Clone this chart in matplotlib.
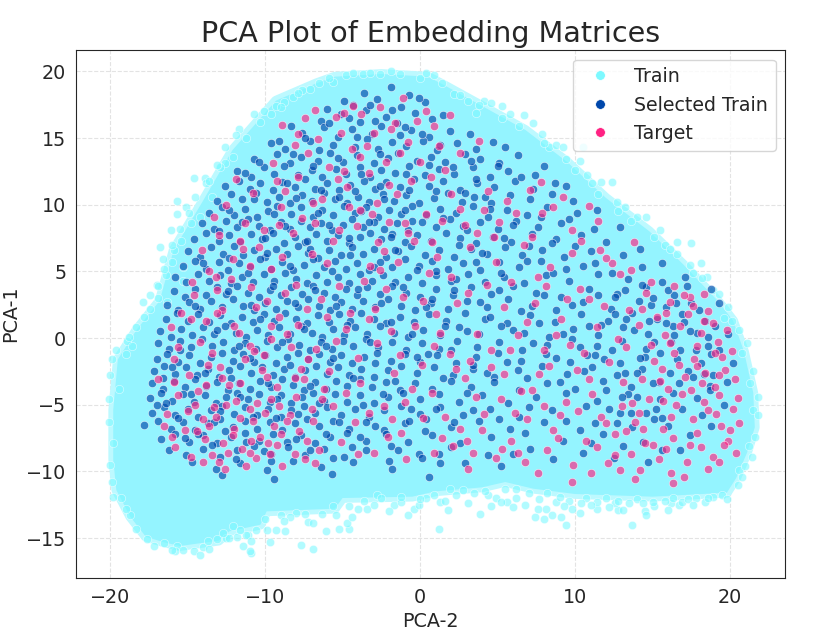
import numpy as np
import matplotlib
matplotlib.use("Agg")
import matplotlib.pyplot as plt
import seaborn as sns
from matplotlib.lines import Line2D

# colours
c_train = "#7DF9FF"
c_sel = "#0047AB"
c_tgt = "#FF2283"

# dense body of the Train cloud (outline)
core_x = [-5.5, -2.5, 0.5, 1.5, 4.0, 6.8, 9.5, 12.0, 14.8, 17.0, 19.2, 20.2, 20.9, 21.5, 21.6,
          21.1, 20.4, 19.8, 15.0, 10.0, 7.3, 5.5, 4.0, 1.0, -0.5, -5.0, -5.5, -9.9, -10.3, -12.3,
          -13.0, -15.5, -16.6, -17.7, -18.7, -19.6, -19.8, -19.8, -19.5, -18.3, -16.8, -15.9,
          -14.0, -12.1, -9.3, -6.7]
core_y = [19.6, 19.8, 19.6, 19.0, 17.4, 15.6, 13.2, 10.5, 8.0, 5.5, 2.8, 1.3, -1.0, -4.1, -6.7,
          -8.6, -10.5, -11.6, -11.9, -11.7, -11.3, -10.8, -11.2, -11.5, -11.9, -12.0, -12.8, -13.0,
          -14.0, -14.5, -15.2, -15.6, -15.3, -14.9, -13.4, -11.4, -9.1, -5.4, -1.6, 0.6, 2.8, 6.6,
          10.3, 14.1, 17.8, 19.1]

# loose Train points around the edge of the cloud
train_pts = [
    (-11.7, 15.7), (-11.9, 15.2), (-12.1, 13.6), (-12.6, 13.1), (-12.9, 12.8), (-13.9, 12.0),
    (-14.6, 12.0), (-13.8, 11.6), (-13.4, 10.6), (-15.7, 10.3), (-15.1, 9.8), (-15.7, 9.3),
    (-14.8, 8.6), (-14.2, 9.1), (-16.1, 8.1), (-15.4, 7.3), (-16.8, 6.8), (-15.9, 6.6),
    (-16.0, 5.7), (-15.3, 5.3), (-16.4, 4.7), (-15.3, 4.3), (-17.9, 2.7), (-16.9, 3.0),
    (-17.4, 2.2), (-16.3, 2.7), (-17.0, 4.0), (-16.6, 5.9),
    (-10.7, 16.8), (-10.1, 17.0), (-9.6, 16.8), (-9.3, 17.4), (-8.8, 17.7), (-8.2, 18.1),
    (-7.6, 18.6), (-7.1, 18.7), (-6.5, 19.1), (-5.6, 19.2), (-4.8, 19.7), (-3.7, 19.8),
    (-2.6, 19.8), (-1.3, 19.8), (0.0, 19.5),
    (0.9, 19.7), (2.2, 18.3), (3.1, 17.8), (4.1, 17.8), (4.6, 17.6), (5.3, 17.4), (5.8, 16.8),
    (6.7, 16.7), (7.3, 16.1), (7.9, 15.3), (8.3, 14.3), (8.8, 14.5), (9.2, 14.3), (10.5, 14.3),
    (10.3, 13.3), (10.8, 12.2), (11.1, 11.6), (11.7, 11.7), (12.4, 11.7), (12.7, 10.2),
    (14.0, 9.1), (14.6, 9.1), (15.5, 8.1), (16.6, 7.2), (17.5, 7.1), (16.6, 6.3), (18.1, 5.6),
    (18.5, 4.6), (18.9, 3.6), (19.6, 1.5), (13.2, 9.8), (15.8, 7.0), (17.6, 4.9), (3.6, 16.9),
    (20.1, 1.3), (20.8, -1.1), (21.3, -3.4), (21.5, -5.4), (21.2, -8.1), (20.6, -9.9),
    (-19.9, -1.6), (-20.1, -4.6), (-18.9, -0.2), (-19.0, -1.2), (-18.3, 0.8), (-18.6, -0.6),
    (-19.4, -3.8), (-19.8, -7.9), (-19.9, -10.8), (-19.3, -12.0), (-18.7, -13.3),
    (-17.6, -15.1), (-16.5, -15.4), (-15.7, -15.6), (-14.6, -16.0), (-14.2, -16.3),
    (-15.3, -15.9), (-13.1, -15.1), (-12.5, -15.0), (-11.1, -14.8), (-10.9, -16.1),
    (-12.1, -14.1), (-12.3, -15.0), (-15.8, -16.0),
    (-11.2, -14.8), (-10.9, -15.2), (-11.4, -15.6), (-11.0, -16.0), (-9.7, -15.3), (-9.9, -14.4),
    (-9.3, -14.4), (-8.7, -14.5), (-7.7, -15.5), (-6.9, -15.8), (-6.1, -14.5), (-7.2, -13.8),
    (-6.9, -13.9), (-5.4, -13.3), (-5.2, -14.3), (-4.6, -14.3), (-4.7, -13.9), (-4.4, -13.4),
    (-4.0, -12.8), (-3.4, -12.8), (-2.8, -11.8), (-1.7, -12.5), (-1.2, -12.3), (-0.75, -13.3),
    (-0.4, -12.8), (-0.1, -12.5), (1.2, -14.3), (1.3, -12.3), (0.9, -11.8), (1.8, -12.9),
    (1.9, -11.3), (3.9, -13.2), (4.4, -11.8), (4.9, -12.0), (5.6, -12.3), (-8.0, -13.1),
    (-9.0, -13.3), (-2.5, -12.0), (2.8, -11.4), (3.5, -11.6),
    (5.5, -11.3), (5.2, -12.3), (6.2, -12.0), (6.8, -12.5), (7.4, -13.4), (8.0, -13.6),
    (7.6, -12.8), (8.1, -12.8), (8.5, -13.3), (9.1, -13.4), (9.4, -14.0), (9.8, -12.8),
    (10.3, -13.1), (8.8, -12.3), (11.4, -12.8), (11.4, -12.3), (12.8, -12.9), (13.1, -12.9),
    (12.6, -12.4), (13.7, -14.0), (14.5, -13.0), (14.6, -13.3), (15.1, -12.6), (16.2, -12.4),
    (16.7, -12.5), (16.9, -12.3), (16.3, -12.0), (7.0, -11.6), (9.0, -11.9), (10.7, -12.0),
    (12.0, -12.0), (14.0, -12.1), (17.8, -12.0), (18.9, -11.9),
    (-7.9, 18.4), (-9.0, 17.3), (-10.3, 16.2), (-11.2, 15.0), (-12.6, 14.3), (-13.1, 13.0),
    (-13.6, 11.8), (-14.5, 10.6), (-14.9, 9.4), (-15.5, 8.2), (-16.0, 7.0), (-16.5, 5.2),
    (-16.9, 3.9), (-17.4, 3.2), (-17.8, 1.6), (-18.8, 0.1), (-19.6, -0.9), (-20.0, -2.8),
    (-20.1, -6.3), (-20.0, -9.5), (-19.8, -11.9), (-19.0, -12.8), (-18.3, -14.3), (-17.2, -15.6),
    (-16.0, -15.9), (-14.0, -15.7), (-13.6, -15.8), (-12.7, -14.6), (-11.8, -14.9), (-10.6, -14.4),
    (-10.0, -13.6), (-8.4, -13.4), (-7.4, -13.2), (-6.3, -13.2), (-5.6, -12.6), (-3.6, -12.2),
    (-1.2, -11.9), (0.4, -12.0), (2.3, -11.8), (4.2, -11.5), (6.2, -11.3), (8.2, -11.6),
    (9.6, -12.2), (11.0, -12.5), (12.8, -12.2), (14.4, -12.4), (15.8, -12.2), (17.3, -12.1),
    (18.4, -12.3), (19.5, -11.8), (20.5, -11.0), (21.0, -9.6), (21.6, -7.4), (21.8, -5.8),
    (21.8, -4.4), (21.5, -2.5), (21.1, -0.4), (20.6, 0.6), (19.9, 2.3), (19.3, 3.3), (18.2, 4.5),
    (17.4, 5.5), (16.1, 6.7), (15.1, 7.6), (13.6, 8.8), (12.8, 9.5), (11.5, 10.8), (10.0, 12.6),
    (9.4, 13.4), (8.0, 14.6), (6.4, 15.9), (5.3, 16.5), (3.8, 17.5), (2.6, 18.2), (1.4, 19.1),
    (0.4, 19.9), (-1.9, 20.0), (-3.2, 19.9), (-4.3, 19.9), (-5.9, 19.5),
    (-4.6, -12.6), (-3.0, -12.5), (-2.0, -13.0), (0.0, -12.1), (1.6, -12.2), (3.1, -12.4),
    (4.6, -12.6), (6.0, -12.7), (7.7, -12.1), (9.3, -12.6), (10.4, -12.4), (12.2, -12.7),
    (13.5, -12.4), (15.0, -12.3), (16.0, -12.9), (17.6, -12.5), (18.6, -12.0), (19.8, -12.1),
    (20.8, -10.4), (21.4, -8.9), (-8.8, -13.7), (-11.6, -14.4), (-13.7, -15.2),
]

# Selected Train points
sel_pts = [
    (-3.6, 18.4), (-1.9, 18.8), (-0.7, 18.2),
    (-4.3, 17.5), (-2.8, 17.9), (-1.2, 17.3), (0.3, 17.7), (-3.5, 17.1),
    (-6.4, 16.3), (-5.1, 16.8), (-3.9, 16.2), (-2.2, 16.6), (-1.5, 16.1), (-0.3, 16.9), (0.8, 16.4),
    (1.5, 16.7), (-4.6, 16.5),
    (-7.6, 15.4), (-6.2, 15.8), (-5.3, 15.1), (-4.4, 15.7), (-3.1, 15.3), (-2.5, 15.9), (-1.3, 15.2),
    (-0.6, 15.6), (0.6, 15.1), (1.9, 15.5), (3.2, 15.3), (-8.3, 15.9),
    (-9.6, 14.6), (-8.7, 14.2), (-7.1, 14.8), (-6.5, 14.1), (-5.6, 14.5), (-4.2, 14.3), (-3.4, 14.9),
    (-2.7, 14.2), (-1.8, 14.7), (-0.9, 14.4), (0.2, 14.8), (1.1, 14.1), (2.4, 14.6), (3.6, 14.2),
    (4.7, 14.7), (5.5, 14.3),
    (-10.7, 13.4), (-9.2, 13.8), (-8.4, 13.1), (-7.7, 13.6), (-6.6, 13.3), (-5.8, 13.9), (-5.0, 13.2),
    (-4.1, 13.7), (-3.0, 13.1), (-2.1, 13.5), (-1.4, 13.9), (-0.2, 13.3), (0.7, 13.6), (1.6, 13.2),
    (2.9, 13.8), (3.9, 13.4), (5.1, 13.1), (6.3, 13.7),
    (-11.8, 12.5), (-10.9, 12.1), (-10.1, 12.8), (-9.4, 12.3), (-8.8, 12.9), (-7.9, 12.2), (-7.0, 12.6),
    (-6.3, 12.1), (-5.4, 12.7), (-4.8, 12.3), (-3.9, 12.8), (-3.2, 12.1), (-2.5, 12.6), (-1.6, 12.4),
    (-0.7, 12.9), (0.3, 12.2), (1.2, 12.7), (2.2, 12.3), (3.4, 12.8), (4.5, 12.1), (5.7, 12.5),
    (7.4, 12.2),
    (-12.6, 11.4), (-11.7, 11.8), (-11.0, 11.2), (-10.3, 11.6), (-9.5, 11.1), (-8.9, 11.7),
    (-8.1, 11.3), (-7.4, 11.9), (-6.8, 11.2), (-6.0, 11.6), (-5.2, 11.1), (-4.5, 11.5), (-3.6, 11.8),
    (-2.9, 11.2), (-2.2, 11.7), (-1.3, 11.3), (-0.4, 11.9), (0.6, 11.4), (1.5, 11.8), (2.6, 11.1),
    (3.7, 11.6), (4.8, 11.3), (6.1, 11.8), (7.3, 11.2), (8.7, 11.6),
    (-13.1, 10.3), (-12.2, 10.8), (-11.5, 10.4), (-10.6, 10.9), (-9.9, 10.2), (-9.1, 10.6),
    (-8.4, 10.1), (-7.6, 10.7), (-7.0, 10.3), (-6.2, 10.9), (-5.5, 10.4), (-4.7, 10.1), (-4.0, 10.6),
    (-3.3, 10.2), (-2.4, 10.8), (-1.7, 10.3), (-0.9, 10.7), (-0.1, 10.1), (0.9, 10.5), (1.8, 10.9),
    (2.7, 10.2), (3.5, 10.6), (4.6, 10.1), (5.8, 10.7), (7.1, 10.4), (8.5, 10.8), (9.9, 10.3),
    (-13.6, 9.4), (-12.8, 9.8), (-12.0, 9.2), (-11.3, 9.7), (-10.5, 9.1), (-9.8, 9.5), (-9.2, 9.9),
    (-8.3, 9.3), (-7.7, 9.8), (-6.9, 9.1), (-6.3, 9.6), (-5.6, 9.2), (-4.9, 9.9), (-4.2, 9.4),
    (-3.5, 9.8), (-2.7, 9.1), (-2.0, 9.6), (-1.2, 9.3), (-0.5, 9.9), (0.4, 9.2), (1.3, 9.7),
    (2.3, 9.4), (3.4, 9.9), (4.4, 9.1), (5.6, 9.6), (6.9, 9.2), (8.2, 9.8), (10.1, 9.4),
    (-14.1, 8.6), (-13.3, 8.2), (-12.5, 8.8), (-11.8, 8.3), (-11.1, 8.9), (-10.4, 8.4), (-9.7, 8.1),
    (-9.0, 8.7), (-8.4, 8.2), (-7.7, 8.8), (-7.1, 8.3), (-6.4, 8.6), (-5.7, 8.1), (-5.0, 8.5),
    (-4.4, 8.9), (-3.7, 8.3), (-3.0, 8.7), (-2.3, 8.2), (-1.5, 8.6), (-0.8, 8.1), (0.1, 8.7),
    (1.0, 8.3), (1.9, 8.9), (2.8, 8.4), (3.9, 8.7), (5.0, 8.2), (6.2, 8.8), (7.6, 8.3), (9.1, 8.6),
    (11.2, 8.2),
    (-14.6, 7.4), (-13.8, 7.9), (-13.0, 7.3), (-12.3, 7.7), (-11.6, 7.2), (-10.9, 7.8), (-10.2, 7.4),
    (-9.5, 7.9), (-8.8, 7.1), (-8.1, 7.6), (-7.4, 7.2), (-6.7, 7.8), (-6.0, 7.3), (-5.3, 7.7),
    (-4.6, 7.1), (-3.9, 7.6), (-3.2, 7.9), (-2.5, 7.4), (-1.8, 7.8), (-1.0, 7.2), (-0.2, 7.7),
    (0.7, 7.3), (1.7, 7.9), (2.6, 7.5), (3.6, 7.1), (4.7, 7.6), (5.9, 7.2), (7.2, 7.8), (8.8, 7.4),
    (10.4, 7.7),
    (-15.0, 6.5), (-14.2, 6.1), (-13.5, 6.8), (-12.7, 6.3), (-12.0, 6.9), (-11.4, 6.2), (-10.7, 6.6),
    (-10.0, 6.1), (-9.3, 6.7), (-8.6, 6.3), (-7.9, 6.9), (-7.2, 6.4), (-6.6, 6.0), (-5.9, 6.6),
    (-5.1, 6.2), (-4.4, 6.8), (-3.7, 6.3), (-3.0, 6.7), (-2.2, 6.1), (-1.4, 6.5), (-0.6, 6.9),
    (0.3, 6.2), (1.2, 6.6), (2.2, 6.1), (3.3, 6.7), (4.3, 6.3), (5.5, 6.8), (6.6, 6.2), (7.9, 6.6),
    (9.3, 6.1), (11.0, 6.5), (13.1, 6.2),
    (-15.3, 5.4), (-14.5, 5.8), (-13.8, 5.2), (-13.0, 5.7), (-12.4, 5.1), (-11.7, 5.6), (-11.0, 5.3),
    (-10.3, 5.9), (-9.6, 5.2), (-8.9, 5.7), (-8.2, 5.1), (-7.5, 5.5), (-6.9, 5.9), (-6.2, 5.3),
    (-5.5, 5.8), (-4.8, 5.2), (-4.1, 5.6), (-3.3, 5.1), (-2.6, 5.7), (-1.8, 5.3), (-1.0, 5.9),
    (-0.1, 5.4), (0.8, 5.8), (1.8, 5.2), (2.8, 5.6), (3.9, 5.1), (5.1, 5.7), (6.4, 5.3), (7.8, 5.8),
    (9.4, 5.2), (11.3, 5.6), (14.3, 5.3),
    (-15.8, 4.6), (-15.1, 4.2), (-14.3, 4.8), (-13.6, 4.3), (-12.9, 4.7), (-12.2, 4.1), (-11.5, 4.6),
    (-10.8, 4.2), (-10.1, 4.8), (-9.4, 4.3), (-8.7, 4.9), (-8.0, 4.4), (-7.3, 4.1), (-6.7, 4.7),
    (-6.0, 4.2), (-5.3, 4.6), (-4.6, 4.1), (-3.9, 4.8), (-3.1, 4.3), (-2.4, 4.7), (-1.6, 4.2),
    (-0.8, 4.6), (0.1, 4.1), (1.0, 4.7), (2.0, 4.3), (3.1, 4.8), (4.2, 4.2), (5.4, 4.6), (6.7, 4.1),
    (8.1, 4.7), (9.6, 4.3), (11.5, 4.8), (13.4, 4.4), (15.6, 4.2),
    (-15.9, 3.5), (-15.2, 3.1), (-14.5, 3.7), (-13.8, 3.2), (-13.1, 3.8), (-12.5, 3.3), (-11.8, 3.9),
    (-11.1, 3.4), (-10.4, 3.1), (-9.7, 3.6), (-9.0, 3.2), (-8.3, 3.8), (-7.6, 3.3), (-6.9, 3.9),
    (-6.2, 3.4), (-5.5, 3.1), (-4.8, 3.7), (-4.1, 3.2), (-3.4, 3.8), (-2.6, 3.3), (-1.8, 3.9),
    (-0.9, 3.4), (0.0, 3.1), (1.0, 3.7), (2.1, 3.2), (3.3, 3.8), (4.6, 3.3), (6.0, 3.9), (7.5, 3.4),
    (9.1, 3.1), (10.9, 3.7), (12.7, 3.3), (14.6, 3.8), (16.4, 3.2),
    (-16.3, 2.5), (-15.6, 2.1), (-14.9, 2.7), (-14.2, 2.2), (-13.5, 2.8), (-12.8, 2.3), (-12.1, 2.9),
    (-11.4, 2.4), (-10.7, 2.1), (-10.0, 2.6), (-9.3, 2.2), (-8.6, 2.8), (-7.9, 2.3), (-7.2, 2.9),
    (-6.5, 2.4), (-5.8, 2.1), (-5.1, 2.7), (-4.4, 2.2), (-3.7, 2.8), (-2.9, 2.3), (-2.1, 2.9),
    (-1.2, 2.4), (-0.3, 2.1), (0.7, 2.6), (1.8, 2.2), (3.0, 2.8), (4.3, 2.3), (5.7, 2.9), (7.2, 2.4),
    (8.8, 2.1), (10.5, 2.7), (12.3, 2.2), (14.1, 2.8), (15.9, 2.3), (17.5, 2.6),
    (-16.4, 1.4), (-15.7, 1.9), (-15.0, 1.3), (-14.3, 1.8), (-13.6, 1.2), (-12.9, 1.7), (-12.2, 1.1),
    (-11.5, 1.6), (-10.8, 1.2), (-10.1, 1.8), (-9.4, 1.3), (-8.7, 1.9), (-8.0, 1.4), (-7.3, 1.1),
    (-6.6, 1.7), (-5.9, 1.2), (-5.2, 1.8), (-4.5, 1.3), (-3.8, 1.9), (-3.0, 1.4), (-2.2, 1.1),
    (-1.3, 1.6), (-0.4, 1.2), (0.6, 1.8), (1.7, 1.3), (2.9, 1.9), (4.2, 1.4), (5.6, 1.1), (7.1, 1.7),
    (8.7, 1.2), (10.4, 1.8), (12.1, 1.3), (13.7, 1.9), (15.3, 1.4), (16.9, 1.8), (18.4, 1.3),
    (-16.8, 0.5), (-16.1, 0.1), (-15.4, 0.7), (-14.7, 0.2), (-14.0, 0.8), (-13.3, 0.3), (-12.6, 0.9),
    (-11.9, 0.4), (-11.2, 0.1), (-10.5, 0.6), (-9.8, 0.2), (-9.1, 0.8), (-8.4, 0.3), (-7.7, 0.9),
    (-7.0, 0.4), (-6.3, 0.1), (-5.6, 0.7), (-4.9, 0.2), (-4.2, 0.8), (-3.4, 0.3), (-2.6, 0.9),
    (-1.7, 0.4), (-0.8, 0.1), (0.2, 0.6), (1.3, 0.2), (2.5, 0.8), (3.8, 0.3), (5.2, 0.9), (6.7, 0.4),
    (8.3, 0.1), (9.9, 0.7), (11.5, 0.2), (13.1, 0.8), (14.7, 0.3), (16.3, 0.9), (17.9, 0.4),
    (-16.9, -0.4), (-16.2, -0.8), (-15.5, -0.2), (-14.8, -0.7), (-14.1, -0.1), (-13.4, -0.6),
    (-12.7, -0.3), (-12.0, -0.9), (-11.3, -0.4), (-10.6, -0.8), (-9.9, -0.2), (-9.2, -0.7),
    (-8.5, -0.1), (-7.8, -0.5), (-7.1, -0.9), (-6.4, -0.3), (-5.7, -0.8), (-5.0, -0.2), (-4.3, -0.6),
    (-3.5, -0.1), (-2.7, -0.7), (-1.8, -0.3), (-0.9, -0.9), (0.1, -0.4), (1.2, -0.8), (2.4, -0.2),
    (3.7, -0.7), (5.1, -0.3), (6.6, -0.9), (8.2, -0.5), (9.8, -0.1), (11.4, -0.6), (13.0, -0.2),
    (14.6, -0.8), (16.2, -0.3), (18.6, -0.6),
    (-17.0, -1.6), (-16.3, -1.2), (-15.6, -1.8), (-14.9, -1.3), (-14.2, -1.9), (-13.5, -1.4),
    (-12.8, -1.1), (-12.1, -1.7), (-11.4, -1.2), (-10.7, -1.8), (-10.0, -1.3), (-9.3, -1.9),
    (-8.6, -1.4), (-7.9, -1.1), (-7.2, -1.6), (-6.5, -1.2), (-5.8, -1.8), (-5.1, -1.3), (-4.4, -1.9),
    (-3.6, -1.4), (-2.8, -1.1), (-1.9, -1.7), (-1.0, -1.2), (0.0, -1.8), (1.1, -1.3), (2.3, -1.9),
    (3.6, -1.4), (5.0, -1.1), (6.5, -1.7), (8.1, -1.2), (9.7, -1.8), (11.3, -1.3), (12.9, -1.9),
    (14.5, -1.4), (16.6, -1.6), (18.8, -1.2),
    (-17.2, -2.5), (-16.5, -2.1), (-15.8, -2.7), (-15.1, -2.2), (-14.4, -2.8), (-13.7, -2.3),
    (-13.0, -2.9), (-12.3, -2.4), (-11.6, -2.1), (-10.9, -2.6), (-10.2, -2.2), (-9.5, -2.8),
    (-8.8, -2.3), (-8.1, -2.9), (-7.4, -2.4), (-6.7, -2.1), (-6.0, -2.7), (-5.3, -2.2), (-4.6, -2.8),
    (-3.8, -2.3), (-3.0, -2.9), (-2.1, -2.4), (-1.2, -2.1), (-0.2, -2.6), (0.9, -2.2), (2.1, -2.8),
    (3.4, -2.3), (4.8, -2.9), (6.3, -2.4), (7.9, -2.1), (9.5, -2.7), (11.1, -2.2), (12.7, -2.8),
    (14.3, -2.3), (17.3, -2.5),
    (-17.3, -3.4), (-16.6, -3.8), (-15.9, -3.2), (-15.2, -3.7), (-14.5, -3.1), (-13.8, -3.6),
    (-13.1, -3.3), (-12.4, -3.9), (-11.7, -3.4), (-11.0, -3.8), (-10.3, -3.2), (-9.6, -3.7),
    (-8.9, -3.1), (-8.2, -3.5), (-7.5, -3.9), (-6.8, -3.3), (-6.1, -3.8), (-5.4, -3.2), (-4.7, -3.6),
    (-3.9, -3.1), (-3.1, -3.7), (-2.2, -3.3), (-1.3, -3.9), (-0.3, -3.4), (0.8, -3.8), (2.0, -3.2),
    (3.3, -3.7), (4.8, -3.3), (6.4, -3.9), (8.2, -3.4), (10.0, -3.8), (11.8, -3.2), (13.6, -3.7),
    (15.4, -3.3), (18.7, -3.6),
    (-17.4, -4.5), (-16.7, -4.1), (-16.0, -4.7), (-15.3, -4.2), (-14.6, -4.8), (-13.9, -4.3),
    (-13.2, -4.9), (-12.5, -4.4), (-11.8, -4.1), (-11.1, -4.6), (-10.4, -4.2), (-9.7, -4.8),
    (-9.0, -4.3), (-8.3, -4.9), (-7.6, -4.4), (-6.9, -4.1), (-6.2, -4.7), (-5.5, -4.2), (-4.7, -4.8),
    (-3.9, -4.3), (-3.0, -4.9), (-2.1, -4.4), (-1.1, -4.1), (0.0, -4.6), (1.2, -4.2), (2.5, -4.8),
    (4.0, -4.3), (5.7, -4.9), (7.5, -4.4), (9.4, -4.1), (11.4, -4.7), (13.4, -4.2), (15.5, -4.6),
    (-17.3, -5.6), (-16.5, -5.2), (-15.8, -5.8), (-15.0, -5.3), (-14.3, -5.9), (-13.5, -5.4),
    (-12.8, -5.1), (-12.0, -5.7), (-11.3, -5.2), (-10.5, -5.8), (-9.8, -5.3), (-9.0, -5.9),
    (-8.3, -5.4), (-7.5, -5.1), (-6.8, -5.6), (-6.0, -5.2), (-5.1, -5.8), (-4.2, -5.3), (-3.3, -5.9),
    (-2.3, -5.4), (-1.2, -5.1), (0.0, -5.7), (1.3, -5.2), (2.8, -5.8), (4.5, -5.3), (6.4, -5.9),
    (8.5, -5.4), (10.7, -5.1), (12.9, -5.6), (15.2, -5.3),
    (-17.8, -6.5), (-16.9, -6.2), (-16.1, -6.8), (-15.3, -6.3), (-14.5, -6.9), (-13.7, -6.4),
    (-12.9, -6.1), (-12.1, -6.7), (-11.3, -6.2), (-10.5, -6.8), (-9.7, -6.3), (-8.9, -6.9),
    (-8.1, -6.4), (-7.3, -6.1), (-6.5, -6.6), (-5.6, -6.2), (-4.6, -6.8), (-3.5, -6.3), (-2.3, -6.9),
    (-1.0, -6.4), (0.4, -6.1), (2.0, -6.7), (3.8, -6.2), (5.8, -6.8), (8.0, -6.3), (10.3, -6.9),
    (12.7, -6.4), (15.1, -6.1),
    (-16.7, -7.6), (-15.8, -7.2), (-14.9, -7.8), (-14.0, -7.3), (-13.1, -7.9), (-12.2, -7.4),
    (-11.3, -7.1), (-10.4, -7.7), (-9.5, -7.2), (-8.6, -7.8), (-7.7, -7.3), (-6.8, -7.9), (-5.8, -7.4),
    (-4.7, -7.1), (-3.5, -7.7), (-2.2, -7.2), (-0.8, -7.8), (0.8, -7.3), (2.6, -7.9), (4.6, -7.4),
    (6.8, -7.1), (9.2, -7.7), (11.8, -7.2), (14.4, -7.8),
    (-16.2, -8.4), (-15.1, -8.8), (-14.0, -8.3), (-12.9, -8.9), (-11.8, -8.4), (-10.7, -8.1),
    (-9.6, -8.7), (-8.5, -8.2), (-7.4, -8.8), (-6.2, -8.3), (-4.9, -8.9), (-3.5, -8.4), (-1.9, -8.1),
    (-0.1, -8.7), (2.0, -8.2), (4.4, -8.8), (7.1, -8.3), (10.5, -8.6),
    (-14.7, -9.3), (-13.2, -9.8), (-11.6, -9.4), (-9.9, -9.9), (-8.2, -9.2), (-6.4, -9.7), (-4.3, -9.3),
    (-1.8, -9.8), (1.3, -9.4), (5.2, -9.6),
    (-12.8, -10.3), (-9.4, -10.6), (-5.7, -10.2), (0.6, -10.4),
    (12.4, -0.9), (13.8, 0.6), (14.2, -1.5), (15.1, -0.3), (15.9, 1.1), (16.8, -0.9), (17.4, 0.5),
    (18.1, -1.9), (17.6, -2.9), (16.1, -2.6), (15.0, -3.4), (13.2, -2.6), (12.0, -3.9), (14.0, -4.4),
    (16.3, -4.1), (17.9, -4.5), (18.9, -2.8), (19.3, -0.9), (19.0, 0.9), (18.0, 2.1), (16.5, 2.6),
    (14.9, 2.5), (13.3, 1.4), (12.6, 3.1), (14.3, 4.0), (16.0, 3.6), (17.2, 3.9), (11.7, 1.0),
    (10.8, -1.3), (12.2, -5.3), (14.6, -5.6), (16.9, -5.3), (18.2, -5.8), (13.7, -6.7), (16.0, -6.6),
    (17.4, -7.3), (15.6, -8.4), (13.1, -8.1), (11.0, -7.9), (18.7, -3.9),
    (-13.4, -8.0), (-12.6, -7.0), (-11.9, -9.1), (-10.1, -8.5), (-9.3, -6.0), (-8.0, -7.6),
    (-6.1, -7.2), (-4.4, -8.2), (-2.9, -6.6), (-1.4, -8.4), (0.3, -7.0), (-14.3, -7.2), (-15.6, -6.0),
    (-16.4, -4.9), (-14.8, -4.2), (-12.9, -5.5), (-11.6, -4.4), (-10.8, -5.9), (-9.2, -4.6),
    (-7.9, -5.7), (-6.5, -4.9), (-5.2, -6.3), (-3.7, -5.0), (-2.4, -4.2), (-0.6, -5.3), (-13.9, -2.6),
    (-12.2, -3.0), (-11.0, -1.5), (-9.8, -3.4), (-8.4, -2.0), (-7.1, -3.6), (-5.6, -1.5), (-4.3, -3.0),
    (-2.9, -1.9), (-1.6, -3.2), (-0.2, -1.4), (-15.5, -0.9), (-13.1, 0.6), (-11.7, -0.6), (-10.3, 1.4),
    (-8.9, -0.3), (-7.5, 0.7), (-6.1, -0.6), (-4.7, 1.0), (-3.2, -0.3), (-1.9, 1.2), (-0.5, 0.3),
    (-14.5, 2.4), (-12.4, 3.5), (-10.9, 2.5), (-9.5, 3.9), (-8.1, 2.6), (-6.8, 3.6), (-5.4, 2.4),
    (-4.0, 3.7), (-2.5, 2.6), (-1.1, 3.8), (0.4, 2.3), (-14.0, 5.6), (-12.3, 6.0), (-11.1, 4.9),
    (-9.9, 6.4), (-8.4, 5.4), (-7.1, 6.7), (-5.7, 5.0), (-4.5, 6.2), (-3.0, 5.3), (-1.6, 6.6),
    (-0.2, 5.1), (-13.0, 8.0), (-11.5, 8.7), (-10.0, 7.5), (-8.7, 8.4), (-7.3, 7.3), (-5.9, 8.5),
    (-4.6, 7.5), (-3.3, 8.7), (-1.9, 7.6), (-0.5, 8.8), (-12.3, 9.6), (-10.7, 10.4), (-9.4, 9.3),
    (-8.0, 10.5), (-6.6, 9.4), (-5.2, 10.6), (-3.8, 9.5), (-2.3, 10.4), (-1.0, 9.6), (-16.0, -2.2),
    (-16.6, -3.0), (-17.0, -5.0), (-15.2, -7.5), (-13.3, -6.3), (-11.2, -7.8), (-9.6, -9.2),
    (-7.1, -8.4), (-5.6, -9.0), (-3.9, -7.4), (-2.0, -9.2), (-0.7, -6.2), (1.2, -8.7),
    (-8.2, 13.8), (-6.9, 12.9), (-5.3, 13.5), (-3.8, 12.3), (-2.6, 13.8), (-0.9, 12.3), (0.6, 13.0),
    (2.1, 12.8), (3.6, 11.9), (-7.4, 15.0), (-5.9, 16.1), (-4.1, 15.1), (-2.9, 16.3), (-1.0, 15.8),
    (0.1, 15.3), (1.3, 14.5), (-9.1, 14.8), (-10.4, 13.2), (-11.3, 12.4), (-8.6, 11.6), (-6.4, 11.1),
    (-4.2, 11.0), (-2.6, 11.4), (-0.7, 11.1), (1.0, 11.0), (2.9, 10.9), (4.2, 10.6), (-3.2, 17.5),
    (-1.8, 17.1), (-0.1, 18.0), (-4.9, 17.8), (-6.0, 17.2),
    (1.5, 9.0), (3.0, 8.1), (4.5, 9.7), (6.0, 8.5), (7.8, 9.1), (9.6, 8.9), (2.5, 7.0), (4.0, 6.4),
    (5.4, 7.5), (7.0, 6.9), (8.5, 7.1), (10.0, 6.9), (12.0, 7.2), (1.0, 5.0), (2.3, 4.4), (3.6, 5.7),
    (5.2, 4.9), (6.9, 5.8), (8.6, 4.9), (10.5, 5.4), (12.4, 4.9), (0.8, 2.9), (2.2, 3.6), (3.9, 2.7),
    (5.1, 3.6), (6.5, 2.0), (8.0, 3.2), (9.8, 2.5), (11.5, 3.2), (13.2, 3.6), (15.0, 3.0), (1.6, 0.9),
    (3.0, 0.5), (4.5, 1.6), (6.0, 0.6), (7.7, 1.1), (9.2, 0.3), (10.9, 0.9), (12.6, 1.8), (0.5, -1.2),
    (2.0, -0.9), (3.4, -2.0), (5.6, -1.8), (7.3, -0.4), (8.8, -1.5), (10.3, -0.7), (11.9, -1.6),
    (1.5, -3.0), (3.0, -4.1), (4.3, -2.6), (6.9, -3.0), (9.0, -3.3), (10.6, -2.5), (1.0, -5.3),
    (2.2, -6.3), (3.4, -5.4), (5.1, -6.1), (7.0, -5.2), (9.4, -6.2), (11.3, -6.4), (13.6, -5.6),
    (15.6, -6.0), (0.1, -9.0), (2.9, -9.4), (6.0, -8.7), (8.6, -9.1), (12.5, -9.0), (14.7, -9.3),
    (16.8, -8.4), (18.8, -6.6), (19.6, -5.0), (19.8, -3.3), (20.2, -1.9), (19.9, 0.3), (18.6, 0.1),
    (17.0, 1.2), (15.5, -1.1), (14.0, -2.6), (13.0, -4.4), (16.7, -3.4), (18.3, -2.7), (17.8, -0.9),
    (16.4, 0.2), (14.8, 1.3), (19.3, 2.6), (18.8, 3.7), (17.1, 4.6), (15.6, 5.6), (14.2, 6.7),
    (12.9, 8.3), (11.4, 9.6), (9.4, 11.4), (8.0, 12.9), (6.5, 12.1), (5.0, 12.9), (3.3, 13.3),
]

# Target points
tgt_pts = [
    (-7.4, 16.5), (-5.4, 16.6), (-4.9, 16.9), (-3.8, 16.8), (-2.6, 17.3), (0.4, 17.0), (-1.6, 16.1),
    (-3.0, 15.4), (-0.8, 14.7), (-5.9, 12.8), (-9.5, 13.1), (-4.4, 14.2), (-6.6, 14.9), (1.2, 14.4),
    (-2.2, 13.2), (-8.1, 14.5), (-1.1, 18.0), (0.9, 15.9), (2.6, 13.9), (-3.3, 12.4), (3.8, 14.8),
    (-6.8, 17.1),
    (-10.8, 10.9), (-12.5, 10.0), (-9.2, 11.8), (-9.0, 9.8), (-11.3, 8.6), (-7.6, 9.0), (-13.0, 7.7),
    (-6.3, 10.4), (-10.4, 6.8), (-8.2, 7.9), (-12.1, 5.9), (-5.2, 8.1), (-7.0, 6.3), (-9.6, 5.2),
    (-3.9, 9.6), (-13.6, 5.0), (-4.7, 11.3), (-8.7, 11.0), (-6.0, 5.6), (-11.6, 7.3), (-2.7, 7.2),
    (-1.5, 10.8), (-14.1, 6.6), (-3.2, 5.4), (-7.9, 12.1),
    (-14.6, 3.2), (-12.8, 2.1), (-10.9, 3.8), (-9.1, 1.6), (-11.7, 0.4), (-13.4, -1.1), (-8.3, -0.7),
    (-6.4, 2.9), (-10.2, -2.4), (-12.3, -3.5), (-14.9, -2.8), (-7.5, -3.1), (-9.6, -4.6),
    (-11.0, -5.3), (-13.2, -5.9), (-15.6, -4.3), (-8.4, -5.8), (-12.0, -6.8), (-10.3, -7.4),
    (-13.9, -7.6), (-11.5, -8.3), (-9.2, -8.0), (-14.8, -8.9), (-7.8, -7.0), (-12.7, -7.9),
    (-10.8, -6.2), (-16.3, -5.7), (-13.0, -9.3), (-8.9, -9.6), (-6.5, -8.4), (-5.6, -5.1),
    (-15.2, -6.9), (-11.9, -4.7), (-9.9, -2.9), (-7.2, -1.6), (-16.1, 0.8), (-13.8, 1.3),
    (-5.9, -2.5), (-8.7, 3.4), (-12.2, 4.4), (-4.8, 0.7), (-10.6, -9.0), (-9.4, -6.6), (-14.3, -4.0),
    (-6.9, -6.2), (-12.9, -2.2), (-16.9, -3.1), (-11.3, -1.6), (-7.9, 1.0), (-15.4, 1.9),
    (-4.1, 8.4), (-2.3, 6.5), (-0.8, 7.9), (1.4, 8.8), (3.2, 6.8), (-3.6, 4.3), (-1.1, 3.1),
    (0.6, 4.9), (2.4, 2.6), (4.3, 4.0), (-4.5, 1.9), (-2.8, -0.4), (-0.3, 0.9), (1.9, -1.2),
    (3.7, 0.3), (-3.9, -3.4), (-1.7, -2.6), (0.8, -4.1), (2.9, -3.0), (4.6, -2.2), (-4.2, -6.3),
    (-2.1, -7.4), (0.2, -6.0), (2.1, -8.1), (4.0, -6.9), (-0.9, -9.1), (3.1, -9.8), (-2.9, 2.2),
    (1.0, 1.8), (-1.4, 5.7), (4.8, 7.6), (2.6, 9.7), (-3.1, 9.3), (0.1, -2.0),
    (5.6, 10.3), (7.9, 9.4), (9.8, 8.1), (6.7, 7.0), (11.6, 6.6), (8.4, 5.3), (12.9, 4.8), (5.9, 4.2),
    (10.3, 3.7), (7.4, 2.6), (13.5, 2.1), (9.1, 1.4), (6.3, 0.2), (11.4, 0.8), (8.0, -0.9),
    (12.2, -1.8), (5.4, -2.7), (10.1, -2.4), (7.2, -3.9), (13.1, -3.3), (9.4, -4.8), (6.1, -5.6),
    (11.7, -5.9), (8.6, -6.9), (5.3, -8.3), (10.7, -7.7), (6.8, -9.3), (12.6, -8.8), (7.8, 11.7),
    (10.9, 9.9), (13.8, 7.2), (4.4, 11.0),
    (14.6, 3.4), (16.1, 2.7), (17.4, 3.1), (18.6, 2.0), (15.3, 1.6), (16.8, 0.9), (18.1, 0.4),
    (19.2, -0.3), (14.9, -0.5), (16.4, -1.1), (17.7, -1.6), (19.5, -1.4), (15.6, -2.3), (17.1, -2.9),
    (18.4, -2.6), (14.3, -3.1), (16.0, -3.8), (19.0, -3.7), (17.9, -0.6), (18.9, 1.1), (15.8, 0.2),
    (17.3, 1.8), (14.1, 1.0), (16.7, -2.0), (19.7, -2.4), (18.2, -3.4), (15.1, -1.7), (17.6, 2.4),
    (13.0, -5.1), (14.8, -4.6), (16.5, -5.0), (18.3, -4.8), (20.2, -5.3), (13.9, -6.3), (15.7, -6.8),
    (17.6, -6.1), (19.4, -6.6), (12.6, -7.2), (14.5, -7.9), (16.3, -7.5), (18.1, -8.2), (19.9, -7.7),
    (13.6, -8.7), (15.4, -9.1), (17.2, -9.3), (18.9, -8.9), (16.9, -4.2), (20.4, -8.6), (14.2, -9.9),
    (12.1, -9.4), (19.1, -5.7), (17.0, -10.4),
    (-5.3, 11.9), (-2.0, 11.5), (0.7, 12.1), (-7.2, 13.9), (-3.9, 13.6), (-1.3, 13.9), (-0.2, 16.3),
    (-4.3, 17.4), (-8.9, 16.0), (1.9, 16.7),
    (-11.9, 11.9), (-13.3, 9.1), (-10.1, 8.1), (-6.8, 8.6), (-4.6, 9.8), (-2.0, 8.7), (0.4, 9.3),
    (2.0, 10.8), (5.1, 8.7), (7.1, 11.1), (9.2, 10.6), (11.5, 8.8), (3.7, 7.9), (1.1, 6.1),
    (-0.4, 7.3), (-2.6, 5.1), (-5.6, 7.3), (-8.9, 6.1), (-11.0, 5.4), (-14.7, 4.2), (-13.1, 3.6),
    (-9.9, 2.8), (-7.3, 2.2), (-5.2, 3.9), (-2.2, 3.7), (0.2, 2.8), (3.1, 3.4), (5.4, 2.3), (8.1, 3.9),
    (10.9, 2.9), (12.4, 5.6), (9.8, 6.4), (7.2, 7.6), (4.9, 5.7), (2.0, 4.6),
    (-15.9, -1.6), (-14.2, -0.3), (-11.0, -0.6), (-9.6, 0.9), (-6.7, -0.8), (-4.0, -1.5), (-1.9, 0.5),
    (0.9, -0.6), (3.2, -1.7), (5.8, -0.9), (8.8, 0.2), (10.6, -1.1), (13.3, -0.7), (-16.5, -6.6),
    (-14.0, -6.1), (-12.5, -5.0), (-10.0, -5.6), (-8.0, -4.4), (-6.2, -3.8), (-3.3, -5.6),
    (-1.0, -4.8), (1.6, -5.9), (3.6, -4.4), (6.5, -4.0), (8.3, -2.1), (11.1, -4.2), (13.7, -4.9),
    (-15.8, -8.2), (-13.4, -8.8), (-11.2, -9.6), (-9.7, -8.7), (-7.4, -9.1), (-5.1, -7.8),
    (-3.0, -8.6), (-1.2, -7.1), (1.4, -7.5), (3.4, -8.6), (5.9, -7.7), (8.2, -8.4), (9.9, -9.5),
    (11.4, -8.2),
    (14.9, 4.2), (16.4, 3.9), (18.3, 3.3), (19.8, 0.6), (20.1, -1.0), (20.3, -3.1), (19.3, -4.3),
    (17.5, -3.9), (15.7, -4.7), (14.1, -5.6), (13.3, -7.0), (15.9, -8.3), (17.9, -7.1), (19.6, -8.0),
    (18.6, -9.8), (16.2, -10.1), (13.9, -10.6), (20.6, -6.4), (12.0, -6.4), (11.0, -10.1),
    (16.3, -10.9),
    (-12.4, -8.6), (-10.9, -7.7), (-9.0, -7.2), (-13.6, -6.6), (-11.6, -6.0), (-8.1, -8.7),
    (-12.8, -3.0), (-9.2, -3.7), (-7.0, -5.3), (-14.5, -5.0), (-15.9, -3.3), (-13.7, -2.0),
    (-10.7, -1.0), (-8.6, 0.3),
    (4.1, -5.7), (2.6, -6.8), (6.9, -6.1), (9.0, -5.8), (4.9, -9.0), (7.6, -10.1), (9.8, -10.8),
    (-12.1, -7.3), (-11.0, -8.6), (-9.8, -7.9), (-8.6, -6.2), (-13.3, -5.2), (-14.4, -7.0),
    (-10.5, -4.9), (-7.3, -7.7), (-12.6, -9.8), (-9.1, -5.1), (-11.6, -3.4), (-13.8, -3.5),
    (-15.0, -5.5), (-8.1, -3.0), (-10.1, -1.3), (-6.3, -4.6), (-12.0, 0.9), (-14.8, 1.4), (-9.6, -0.1),
    (-7.7, -2.3), (-5.4, -0.2), (-3.3, 1.4), (-1.3, -1.3), (1.3, 0.4), (-0.5, -3.8), (2.3, -2.3),
    (-2.3, -5.1), (-4.8, -4.1), (-6.0, 1.6), (-8.0, 4.0), (-10.6, 2.3), (-13.2, 4.6), (-11.4, 6.7),
    (-9.1, 8.5), (-6.9, 10.1), (-4.9, 12.5), (-2.8, 10.1), (-0.6, 11.8), (1.6, 12.6), (-3.4, 14.4),
    (-5.1, 15.4), (-1.9, 15.7), (0.0, 13.2), (-7.9, 15.3), (-1.0, 8.6), (0.8, 7.2), (2.9, 8.5),
    (4.1, 9.6), (6.2, 9.4), (8.6, 9.8), (10.4, 7.3), (12.0, 6.0), (13.6, 5.1), (7.6, 4.6), (9.5, 2.9),
    (11.9, 2.4), (6.9, 1.2), (4.6, -0.9), (9.7, -0.5), (12.8, -0.1), (7.7, -2.7), (10.9, -3.1),
    (5.2, -4.6), (8.0, -5.1), (10.2, -5.5), (3.0, -7.7), (6.3, -8.6), (8.9, -7.5), (12.9, -9.9),
    (15.0, -8.0), (17.4, -8.0), (19.3, -9.3), (20.0, -6.9), (18.6, -5.4), (16.2, -5.9), (14.4, -6.8),
    (15.5, -3.2), (17.9, -2.1), (19.0, -1.1), (16.1, -0.4), (18.3, 1.3), (15.9, 1.9), (17.0, 3.2),
    (14.3, 2.2), (19.3, -2.8), (20.5, -4.5), (-4.0, -8.7), (-1.8, -6.1), (0.9, -8.6), (-6.8, -9.4),
    (-14.0, -9.3), (-16.0, -7.4), (-13.1, 1.9), (-15.6, -0.7),
]

train_xy = np.array(train_pts)
sel_xy = np.array(sel_pts)
tgt_xy = np.array(tgt_pts)

sns.set_style("white")
plt.rcParams["font.family"] = ["DejaVu Sans"]

fig, ax = plt.subplots(figsize=(8.3, 6.37), dpi=100)
fig.subplots_adjust(left=0.0916, right=0.9458, top=0.9215, bottom=0.0926)

# dense part of Train: light halo first, then the solid body
ax.fill(core_x, core_y, facecolor="#94F4FF", edgecolor="#BDF9FF", lw=7, joinstyle="round", zorder=1)
ax.fill(core_x, core_y, color="#94F4FF", lw=0, zorder=1.5)
ax.scatter(train_xy[:, 0], train_xy[:, 1], s=36, color=c_train, alpha=0.6,
           edgecolor="white", linewidth=0.5, zorder=2)
ax.scatter(sel_xy[:, 0], sel_xy[:, 1], s=36, color=c_sel, alpha=0.65,
           edgecolor="white", linewidth=0.5, zorder=3)
ax.scatter(tgt_xy[:, 0], tgt_xy[:, 1], s=36, color=c_tgt, alpha=0.65,
           edgecolor="white", linewidth=0.5, zorder=4)

ax.set_xlim(-22.2, 23.55)
ax.set_ylim(-18.0, 21.6)
ax.set_xticks([-20, -10, 0, 10, 20])
ax.set_yticks([-15, -10, -5, 0, 5, 10, 15, 20])
ax.tick_params(labelsize=13.8)
ax.grid(True, linestyle="--", color="#e3e3e3", linewidth=0.8)
ax.set_axisbelow(True)

ax.set_title("PCA Plot of Embedding Matrices", fontsize=20.6)
ax.set_xlabel("PCA-2", fontsize=13.8)
ax.set_ylabel("PCA-1", fontsize=13.8)

handles = [
    Line2D([], [], marker="o", linestyle="", color=c_train, markersize=7, markeredgecolor="white", markeredgewidth=0.5),
    Line2D([], [], marker="o", linestyle="", color=c_sel, markersize=7, markeredgecolor="white", markeredgewidth=0.5),
    Line2D([], [], marker="o", linestyle="", color=c_tgt, markersize=7, markeredgecolor="white", markeredgewidth=0.5),
]
ax.legend(handles, ["Train", "Selected Train", "Target"], loc="upper right", fontsize=13.7)

fig.savefig("out.png", dpi=100)
